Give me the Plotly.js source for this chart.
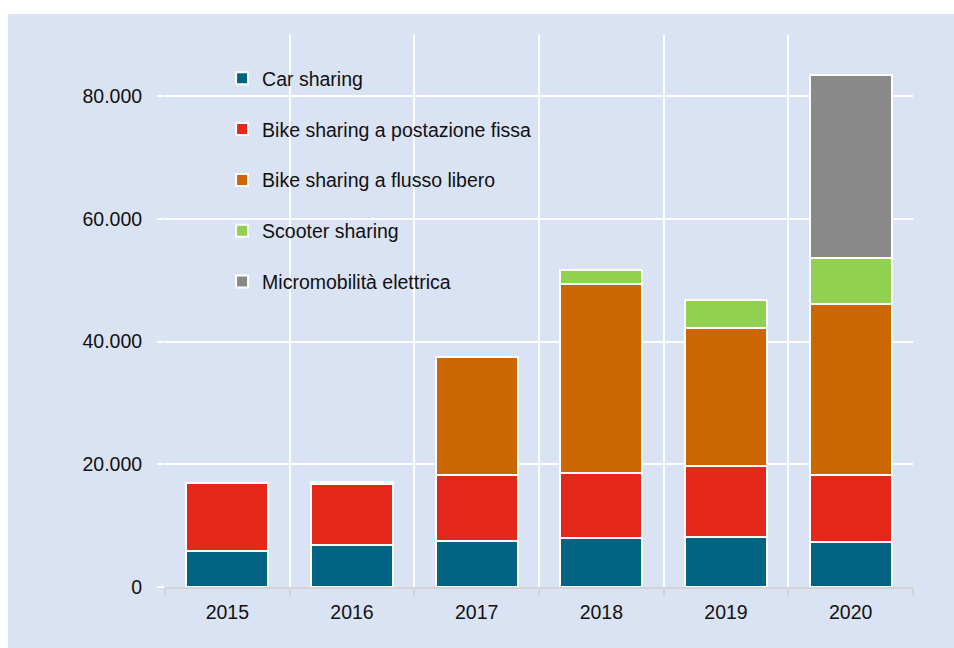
<!DOCTYPE html>
<html>
<head>
<meta charset="utf-8">
<script src="https://cdn.plot.ly/plotly-3.0.1.min.js"></script>
<style>html,body{margin:0;padding:0;background:#fff;}#chart{width:954px;height:648px;}</style>
</head>
<body>
<div id="chart"></div>
<script>
const years = ["2015", "2016", "2017", "2018", "2019", "2020"];
const seriesNames = ["Car sharing", "Bike sharing a postazione fissa", "Bike sharing a flusso libero", "Scooter sharing", "Micromobilità elettrica"];
const carSharing = [5850, 6850, 7550, 7990, 8200, 7290];
const bikeFissa = [11100, 9900, 10660, 10640, 11520, 10970];
const bikeFlusso = [0, 0, 19280, 30800, 22540, 27820];
const scooterSharing = [0, 400, 0, 2230, 4520, 7500];
const micromobilita = [0, 0, 0, 0, 0, 29830];
const seriesColors = ["#006482", "#e3281a", "#cc6600", "#92d050", "#898989"];
const yTicks = [0, 20000, 40000, 60000, 80000];

const allValues = [carSharing, bikeFissa, bikeFlusso, scooterSharing, micromobilita];
const FONT = "Liberation Sans, Arial, sans-serif";
const FS = 19.5;

const traces = allValues.map((vals, i) => ({
  type: "bar",
  name: seriesNames[i],
  x: years,
  y: vals,
  legendgroup: "g" + i,
  marker: { color: seriesColors[i], line: { color: "#ffffff", width: 2 } },
  hoverinfo: "x+y+name"
}));

const layout = {
  width: 954,
  height: 648,
  margin: { l: 165, r: 41, t: 35, b: 61 },
  paper_bgcolor: "#ffffff",
  plot_bgcolor: "rgba(0,0,0,0)",
  barmode: "stack",
  bargap: 0.34,
  font: { family: FONT, size: FS, color: "#111111" },
  showlegend: true,
  legend: {
    x: 0.0763, xanchor: "left",
    y: 0.9565, yanchor: "top",
    bgcolor: "rgba(0,0,0,0)",
    traceorder: "grouped",
    tracegroupgap: 22.5,
    font: { family: FONT, size: FS, color: "#111111" }
  },
  xaxis: {
    type: "category",
    tickson: "boundaries",
    showgrid: true,
    gridcolor: "#ffffff",
    gridwidth: 2,
    showline: true,
    linecolor: "#d4d4d4",
    linewidth: 2,
    ticks: "outside",
    ticklen: 7,
    tickwidth: 2,
    tickcolor: "#d4d4d4",
    tickfont: { family: FONT, size: FS, color: "#111111" },
    ticklabelstandoff: 7
  },
  yaxis: {
    range: [0, 90000],
    tickvals: yTicks,
    tickformat: ",",
    showgrid: true,
    gridcolor: "#ffffff",
    gridwidth: 2,
    zeroline: false,
    showline: false,
    ticks: "outside",
    ticklen: 7,
    tickwidth: 2,
    tickcolor: "#ffffff",
    tickfont: { family: FONT, size: FS, color: "#111111" },
    ticklabelstandoff: 11
  },
  separators: ",.",
  shapes: [{
    type: "rect", xref: "paper", yref: "paper", layer: "below",
    x0: (8 - 165) / 748, x1: (954 - 165) / 748,
    y0: (587 - 648) / 552, y1: (587 - 14) / 552,
    fillcolor: "#dae3f3", line: { width: 0 }
  }]
};

Plotly.newPlot("chart", traces, layout, { displayModeBar: false, staticPlot: true });
</script>
</body>
</html>
